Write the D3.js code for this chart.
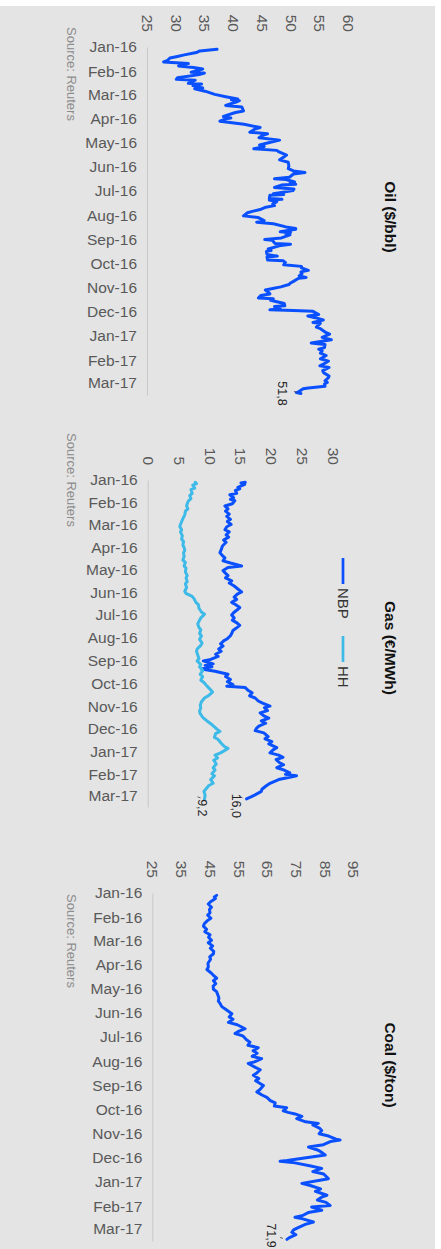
<!DOCTYPE html>
<html>
<head>
<meta charset="utf-8">
<script src="https://cdn.jsdelivr.net/npm/d3@7"></script>
<style>
  body { margin: 0; background: #fff; }
  svg { display: block; }
  text { font-family: "Liberation Sans", Arial, sans-serif; }
</style>
</head>
<body>
<svg id="chart" width="441" height="1249"></svg>
<script>
// month labels on the date axis
const months = ["2016-01-01","2016-02-01","2016-03-01","2016-04-01","2016-05-01","2016-06-01","2016-07-01",
  "2016-08-01","2016-09-01","2016-10-01","2016-11-01","2016-12-01","2017-01-01","2017-02-01","2017-03-01"];

const oilTicks = [25, 30, 35, 40, 45, 50, 55, 60];
const gasTicks = [0, 5, 10, 15, 20, 25, 30];
const coalTicks = [25, 35, 45, 55, 65, 75, 85, 95];

// Brent ($/bbl)
const oil = [
  ["2016-01-04",37.2],["2016-01-06",34.2],["2016-01-08",33.6],["2016-01-11",31.5],["2016-01-13",30.3],["2016-01-15",29.0],
  ["2016-01-18",28.6],["2016-01-20",27.9],["2016-01-22",32.2],["2016-01-25",30.5],["2016-01-27",33.1],["2016-01-29",34.7],
  ["2016-02-02",32.7],["2016-02-03",35.0],["2016-02-05",34.1],["2016-02-09",30.3],["2016-02-11",30.1],["2016-02-12",33.4],
  ["2016-02-16",32.2],["2016-02-17",34.5],["2016-02-19",33.0],["2016-02-22",34.7],["2016-02-23",33.3],["2016-02-26",35.1],
  ["2016-03-01",36.8],["2016-03-04",38.7],["2016-03-07",40.8],["2016-03-08",39.7],["2016-03-09",41.1],["2016-03-11",40.4],
  ["2016-03-15",38.7],["2016-03-17",41.5],["2016-03-22",41.8],["2016-03-24",40.4],["2016-03-29",38.3],["2016-03-31",39.6],
  ["2016-04-01",38.7],["2016-04-04",37.7],["2016-04-06",39.8],["2016-04-08",41.9],["2016-04-12",44.7],["2016-04-14",43.8],
  ["2016-04-18",42.9],["2016-04-20",46.0],["2016-04-22",45.1],["2016-04-25",44.5],["2016-04-28",48.1],["2016-05-02",45.8],
  ["2016-05-04",44.6],["2016-05-06",45.4],["2016-05-09",43.6],["2016-05-11",47.6],["2016-05-13",48.0],["2016-05-17",49.3],
  ["2016-05-20",48.7],["2016-05-23",48.1],["2016-05-26",49.6],["2016-05-31",49.7],["2016-06-03",49.6],["2016-06-06",50.5],
  ["2016-06-08",52.5],["2016-06-10",50.5],["2016-06-14",49.8],["2016-06-16",47.2],["2016-06-17",49.2],["2016-06-20",50.7],
  ["2016-06-22",49.9],["2016-06-23",50.9],["2016-06-24",48.4],["2016-06-27",47.2],["2016-06-29",50.6],["2016-07-01",50.4],
  ["2016-07-05",47.0],["2016-07-06",48.8],["2016-07-07",46.4],["2016-07-11",46.3],["2016-07-12",48.5],["2016-07-13",46.3],
  ["2016-07-15",47.6],["2016-07-18",46.9],["2016-07-20",47.2],["2016-07-22",45.7],["2016-07-25",44.7],["2016-07-27",43.5],
  ["2016-07-29",42.5],["2016-08-02",41.8],["2016-08-04",44.3],["2016-08-08",45.4],["2016-08-10",44.1],["2016-08-12",47.0],
  ["2016-08-16",49.2],["2016-08-18",50.9],["2016-08-19",50.9],["2016-08-22",48.2],["2016-08-23",50.0],["2016-08-24",49.1],
  ["2016-08-26",49.9],["2016-08-30",48.4],["2016-09-01",45.5],["2016-09-02",46.8],["2016-09-06",47.3],["2016-09-07",50.0],
  ["2016-09-09",48.0],["2016-09-13",46.1],["2016-09-15",46.6],["2016-09-16",45.8],["2016-09-20",45.9],["2016-09-22",47.7],
  ["2016-09-23",45.9],["2016-09-27",46.0],["2016-09-28",48.7],["2016-09-30",49.1],["2016-10-03",48.8],["2016-10-05",51.9],
  ["2016-10-07",51.9],["2016-10-10",53.1],["2016-10-12",51.8],["2016-10-14",52.0],["2016-10-17",51.5],["2016-10-19",52.7],
  ["2016-10-20",51.4],["2016-10-24",50.5],["2016-10-26",50.0],["2016-10-28",49.7],["2016-10-31",48.3],["2016-11-02",46.9],
  ["2016-11-04",45.6],["2016-11-07",46.2],["2016-11-09",46.4],["2016-11-11",44.8],["2016-11-14",44.4],["2016-11-15",47.0],
  ["2016-11-17",46.5],["2016-11-21",48.9],["2016-11-24",49.0],["2016-11-25",47.2],["2016-11-28",48.2],["2016-11-29",46.4],
  ["2016-11-30",50.5],["2016-12-01",53.9],["2016-12-05",54.9],["2016-12-07",53.0],["2016-12-09",54.3],["2016-12-12",55.7],
  ["2016-12-15",53.9],["2016-12-16",55.2],["2016-12-21",54.5],["2016-12-23",55.2],["2016-12-28",56.2],["2016-12-30",56.8],
  ["2017-01-03",55.5],["2017-01-06",57.1],["2017-01-10",53.6],["2017-01-12",56.0],["2017-01-16",55.9],["2017-01-18",54.9],
  ["2017-01-20",55.5],["2017-01-23",55.2],["2017-01-26",56.2],["2017-01-30",55.2],["2017-02-02",56.6],["2017-02-06",55.7],
  ["2017-02-08",55.1],["2017-02-10",56.7],["2017-02-14",55.6],["2017-02-16",55.7],["2017-02-17",55.8],["2017-02-21",56.7],
  ["2017-02-23",56.6],["2017-02-27",56.0],["2017-03-01",56.4],["2017-03-03",55.9],["2017-03-06",56.0],["2017-03-08",53.1],
  ["2017-03-09",52.2],["2017-03-13",51.4],["2017-03-14",51.0],["2017-03-15",51.8]
];

// NBP gas (EUR/MWh)
const nbp = [
  ["2016-01-04",15.8],["2016-01-05",15.1],["2016-01-07",15.7],["2016-01-11",14.6],["2016-01-13",14.9],["2016-01-15",14.2],
  ["2016-01-19",14.4],["2016-01-21",13.3],["2016-01-25",13.9],["2016-01-27",13.4],["2016-01-29",14.1],["2016-02-02",13.7],
  ["2016-02-05",12.5],["2016-02-09",13.0],["2016-02-12",12.6],["2016-02-16",13.2],["2016-02-19",12.8],["2016-02-23",13.4],
  ["2016-02-26",12.9],["2016-03-01",13.5],["2016-03-04",12.8],["2016-03-08",12.5],["2016-03-11",13.2],["2016-03-15",12.7],
  ["2016-03-18",13.1],["2016-03-22",12.3],["2016-03-25",12.7],["2016-03-30",12.1],["2016-04-04",11.9],["2016-04-08",11.7],
  ["2016-04-12",12.1],["2016-04-15",12.5],["2016-04-19",12.2],["2016-04-22",13.4],["2016-04-26",15.2],["2016-04-28",13.0],
  ["2016-05-02",12.2],["2016-05-05",12.5],["2016-05-09",13.0],["2016-05-12",12.6],["2016-05-16",13.6],["2016-05-19",13.2],
  ["2016-05-23",14.0],["2016-05-27",14.6],["2016-05-31",15.2],["2016-06-03",14.5],["2016-06-07",14.0],["2016-06-10",14.4],
  ["2016-06-14",13.6],["2016-06-17",14.2],["2016-06-21",14.9],["2016-06-24",14.5],["2016-06-28",13.9],["2016-07-01",13.6],
  ["2016-07-05",14.0],["2016-07-08",13.7],["2016-07-12",14.5],["2016-07-15",14.9],["2016-07-19",14.3],["2016-07-22",13.8],
  ["2016-07-26",13.6],["2016-07-29",13.4],["2016-08-02",12.9],["2016-08-05",12.3],["2016-08-09",11.8],["2016-08-12",12.2],
  ["2016-08-16",11.5],["2016-08-19",11.9],["2016-08-23",11.0],["2016-08-26",11.4],["2016-08-30",10.2],["2016-09-01",9.0],
  ["2016-09-05",10.6],["2016-09-07",9.3],["2016-09-09",10.4],["2016-09-12",8.7],["2016-09-15",10.9],["2016-09-19",13.0],
  ["2016-09-22",12.6],["2016-09-26",13.4],["2016-09-29",12.9],["2016-10-03",13.8],["2016-10-05",12.8],["2016-10-07",15.8],
  ["2016-10-11",16.3],["2016-10-14",16.9],["2016-10-18",16.5],["2016-10-21",17.4],["2016-10-25",17.9],["2016-10-28",18.6],
  ["2016-11-01",19.8],["2016-11-03",18.9],["2016-11-07",19.4],["2016-11-10",18.2],["2016-11-14",18.8],["2016-11-17",19.6],
  ["2016-11-21",18.4],["2016-11-24",19.1],["2016-11-28",18.0],["2016-12-01",17.6],["2016-12-04",17.4],["2016-12-07",18.8],
  ["2016-12-12",19.5],["2016-12-15",19.0],["2016-12-19",20.1],["2016-12-22",19.6],["2016-12-27",20.9],["2016-12-30",20.3],
  ["2017-01-03",19.8],["2017-01-06",21.2],["2017-01-09",21.9],["2017-01-12",20.8],["2017-01-16",21.3],["2017-01-19",22.0],
  ["2017-01-23",20.9],["2017-01-26",22.0],["2017-01-30",23.0],["2017-02-01",22.3],["2017-02-03",24.1],["2017-02-06",22.4],
  ["2017-02-08",21.2],["2017-02-13",19.8],["2017-02-17",19.1],["2017-02-21",18.5],["2017-02-24",18.4],["2017-03-01",17.3],
  ["2017-03-03",16.8],["2017-03-06",16.0]
];

// Henry Hub gas (EUR/MWh)
const hh = [
  ["2016-01-04",7.7],["2016-01-06",7.9],["2016-01-08",7.3],["2016-01-12",7.6],["2016-01-14",7.0],["2016-01-19",7.2],
  ["2016-01-22",6.8],["2016-01-26",7.0],["2016-01-29",6.6],["2016-02-02",6.4],["2016-02-05",6.3],["2016-02-09",6.5],
  ["2016-02-12",6.1],["2016-02-17",6.0],["2016-02-22",5.7],["2016-02-26",5.5],["2016-03-01",5.3],["2016-03-04",5.2],
  ["2016-03-08",5.5],["2016-03-11",5.3],["2016-03-16",5.6],["2016-03-21",5.5],["2016-03-24",5.8],["2016-03-29",5.7],
  ["2016-04-01",5.9],["2016-04-05",6.0],["2016-04-08",5.8],["2016-04-13",5.9],["2016-04-18",5.7],["2016-04-21",6.1],
  ["2016-04-26",5.9],["2016-04-29",6.2],["2016-05-04",6.1],["2016-05-09",6.4],["2016-05-12",6.2],["2016-05-17",6.4],
  ["2016-05-20",6.1],["2016-05-25",6.3],["2016-05-30",6.0],["2016-06-02",6.2],["2016-06-06",7.2],["2016-06-09",7.5],
  ["2016-06-14",7.8],["2016-06-17",8.2],["2016-06-22",8.3],["2016-06-27",8.7],["2016-06-30",9.2],["2016-07-05",8.6],
  ["2016-07-08",8.4],["2016-07-13",8.1],["2016-07-18",8.3],["2016-07-21",8.6],["2016-07-26",8.4],["2016-07-29",8.7],
  ["2016-08-03",8.4],["2016-08-08",8.8],["2016-08-11",8.6],["2016-08-16",8.0],["2016-08-19",7.9],["2016-08-24",8.1],
  ["2016-08-29",8.3],["2016-09-01",8.0],["2016-09-06",8.6],["2016-09-09",8.4],["2016-09-14",8.9],["2016-09-19",8.5],
  ["2016-09-22",8.9],["2016-09-27",8.6],["2016-09-30",9.1],["2016-10-05",9.6],["2016-10-10",10.2],["2016-10-13",10.5],
  ["2016-10-18",9.8],["2016-10-21",9.2],["2016-10-26",8.7],["2016-10-31",8.5],["2016-11-03",8.6],["2016-11-08",8.4],
  ["2016-11-11",8.5],["2016-11-16",8.9],["2016-11-21",9.6],["2016-11-24",10.1],["2016-11-29",10.8],["2016-12-02",11.2],
  ["2016-12-05",11.7],["2016-12-08",11.0],["2016-12-13",10.8],["2016-12-16",11.4],["2016-12-21",11.9],["2016-12-26",12.5],
  ["2016-12-28",13.0],["2017-01-03",11.8],["2017-01-06",10.9],["2017-01-10",11.3],["2017-01-13",10.7],["2017-01-18",11.1],
  ["2017-01-23",10.6],["2017-01-26",10.9],["2017-01-31",10.4],["2017-02-03",10.8],["2017-02-08",10.2],["2017-02-13",10.6],
  ["2017-02-16",9.9],["2017-02-21",9.4],["2017-02-24",9.1],["2017-03-01",9.3],["2017-03-06",9.2]
];

// API2 coal ($/ton)
const coal = [
  ["2016-01-04",47.4],["2016-01-06",46.6],["2016-01-08",47.0],["2016-01-12",45.3],["2016-01-15",44.5],["2016-01-19",45.6],
  ["2016-01-22",44.9],["2016-01-26",45.1],["2016-01-29",44.3],["2016-02-02",45.4],["2016-02-05",44.2],["2016-02-09",43.1],
  ["2016-02-12",42.8],["2016-02-16",43.9],["2016-02-19",43.3],["2016-02-23",45.1],["2016-02-26",44.6],["2016-03-01",45.6],
  ["2016-03-04",44.5],["2016-03-08",46.0],["2016-03-11",45.2],["2016-03-15",46.4],["2016-03-18",46.3],["2016-03-22",45.0],
  ["2016-03-25",45.3],["2016-03-30",44.4],["2016-04-04",44.5],["2016-04-07",44.0],["2016-04-11",45.4],["2016-04-14",46.2],
  ["2016-04-18",47.4],["2016-04-21",46.3],["2016-04-25",47.1],["2016-04-28",46.2],["2016-05-02",46.3],["2016-05-05",47.4],
  ["2016-05-10",47.9],["2016-05-13",48.2],["2016-05-17",48.0],["2016-05-20",48.6],["2016-05-24",49.2],["2016-05-27",50.4],
  ["2016-06-02",52.7],["2016-06-06",51.8],["2016-06-09",53.1],["2016-06-13",51.5],["2016-06-16",54.6],["2016-06-21",57.3],
  ["2016-06-24",55.2],["2016-06-27",53.8],["2016-06-30",56.5],["2016-07-05",57.8],["2016-07-08",59.0],["2016-07-12",58.3],
  ["2016-07-15",61.9],["2016-07-19",60.1],["2016-07-22",61.5],["2016-07-26",59.8],["2016-07-29",63.1],["2016-08-02",60.6],
  ["2016-08-04",58.4],["2016-08-09",60.9],["2016-08-12",62.6],["2016-08-16",61.4],["2016-08-19",60.2],["2016-08-23",62.1],
  ["2016-08-26",61.0],["2016-08-30",62.8],["2016-09-01",63.7],["2016-09-06",62.5],["2016-09-09",61.4],["2016-09-13",63.2],
  ["2016-09-16",64.9],["2016-09-20",66.1],["2016-09-23",67.8],["2016-09-27",67.5],["2016-09-29",71.8],["2016-10-03",70.6],
  ["2016-10-05",72.3],["2016-10-07",74.7],["2016-10-10",77.1],["2016-10-13",75.3],["2016-10-17",78.4],["2016-10-19",82.8],
  ["2016-10-21",80.9],["2016-10-25",83.2],["2016-10-28",84.0],["2016-11-01",83.1],["2016-11-04",86.4],["2016-11-08",89.0],
  ["2016-11-09",90.4],["2016-11-11",87.0],["2016-11-15",84.6],["2016-11-18",79.4],["2016-11-22",82.8],["2016-11-25",84.1],
  ["2016-11-28",85.2],["2016-12-01",79.8],["2016-12-05",72.0],["2016-12-06",69.5],["2016-12-08",74.7],["2016-12-12",80.2],
  ["2016-12-15",84.0],["2016-12-19",80.9],["2016-12-22",84.7],["2016-12-28",86.3],["2016-12-30",83.4],["2017-01-03",77.1],
  ["2017-01-06",80.3],["2017-01-10",83.6],["2017-01-13",81.8],["2017-01-18",85.8],["2017-01-20",84.2],["2017-01-24",82.5],
  ["2017-01-27",85.5],["2017-01-31",86.9],["2017-02-02",80.5],["2017-02-06",84.0],["2017-02-09",79.3],["2017-02-13",77.2],
  ["2017-02-15",74.7],["2017-02-17",77.4],["2017-02-21",81.1],["2017-02-24",78.3],["2017-02-28",75.8],["2017-03-03",74.2],
  ["2017-03-06",73.6],["2017-03-09",75.0],["2017-03-13",72.6],["2017-03-15",71.9]
];

const parse = d3.timeParse("%Y-%m-%d");
const fmt = d3.timeFormat("%b-%y");
const monthDates = months.map(parse);
const dateDomain = [parse("2016-01-01"), parse("2017-03-17")];

const svg = d3.select("#chart");

// grey chart area
svg.append("rect")
  .attr("x", 0).attr("y", 6)
  .attr("width", 435).attr("height", 1243)
  .attr("fill", "#e4e4e4");

const panels = [
  { title: "Oil ($/bbl)", ticks: oilTicks, vx: [147, 348], ty: [47, 395], tickEnd: 32,
    source: 27, titleY: 217,
    series: [{ data: oil, color: "#0a50ff", label: "51,8", lx: -19, ly: 0 }] },
  { title: "Gas (€/MWh)", ticks: gasTicks, vx: [147.7, 333], ty: [480, 807], tickEnd: 465,
    source: 433, titleY: 648,
    legend: { x: 343, y: 558 },
    series: [
      { name: "NBP", data: nbp, color: "#0a50ff", label: "16,0", lx: -10, ly: 7 },
      { name: "HH", data: hh, color: "#3dbae8", label: "9,2", lx: -2, ly: 9 }
    ] },
  { title: "Coal ($/ton)", ticks: coalTicks, vx: [152.3, 353.3], ty: [893, 1241], tickEnd: 878,
    source: 894, titleY: 1065,
    series: [{ data: coal, color: "#0a50ff", label: "71,9", lx: -16, ly: -4 }] }
];

panels.forEach(function(p) {
  const g = svg.append("g");
  const x = d3.scaleLinear().domain([p.ticks[0], p.ticks[p.ticks.length - 1]]).range(p.vx);
  const y = d3.scaleTime().domain(dateDomain).range(p.ty);

  // date axis (left, horizontal labels)
  const dateAxis = g.append("g")
    .attr("transform", `translate(${p.vx[0]},0)`)
    .call(d3.axisLeft(y).tickValues(monthDates).tickFormat(fmt).tickSize(0).tickPadding(10));
  dateAxis.select(".domain").attr("stroke", "#c8c8c8").attr("stroke-width", 1);
  dateAxis.selectAll("text")
    .attr("fill", "#595959")
    .style("font-size", "15.5px")
    .style("font-family", "'Liberation Sans', Arial, sans-serif");

  // value axis (top, rotated labels)
  const valAxis = g.append("g")
    .attr("transform", `translate(0,${p.tickEnd})`)
    .call(d3.axisTop(x).tickValues(p.ticks).tickFormat(d3.format("d")).tickSize(0));
  valAxis.select(".domain").remove();
  valAxis.selectAll("text")
    .attr("x", 0).attr("y", 0).attr("dy", "0.35em")
    .attr("transform", "rotate(90)")
    .style("text-anchor", "end")
    .attr("fill", "#595959")
    .style("font-size", "15.5px")
    .style("font-family", "'Liberation Sans', Arial, sans-serif");

  // title
  g.append("text")
    .attr("transform", `translate(390,${p.titleY}) rotate(90)`)
    .attr("text-anchor", "middle")
    .attr("dy", "0.35em")
    .style("font-size", "15.5px")
    .style("font-weight", "bold")
    .attr("fill", "#111")
    .text(p.title);

  // source
  g.append("text")
    .attr("transform", `translate(72,${p.source}) rotate(90)`)
    .attr("dy", "0.35em")
    .style("font-size", "13px")
    .attr("fill", "#8c8c8c")
    .text("Source: Reuters");

  const line = d3.line()
    .x(d => x(d[1]))
    .y(d => y(parse(d[0])));

  p.series.forEach(function(s) {
    g.append("path")
      .datum(s.data)
      .attr("d", line)
      .attr("fill", "none")
      .attr("stroke", s.color)
      .attr("stroke-width", 3)
      .attr("stroke-linejoin", "round")
      .attr("stroke-linecap", "round");

    const last = s.data[s.data.length - 1];
    const ex = x(last[1]), ey = y(parse(last[0]));
    g.append("line")
      .attr("x1", ex - 4).attr("y1", ey - 1)
      .attr("x2", ex - 7).attr("y2", ey - 2)
      .attr("stroke", "#444").attr("stroke-width", 0.8);
    g.append("text")
      .attr("transform", `translate(${ex + s.lx},${ey + s.ly}) rotate(90)`)
      .attr("text-anchor", "middle")
      .attr("dy", "0.35em")
      .style("font-size", "12.5px")
      .attr("fill", "#222")
      .text(s.label);
  });

  // legend (gas panel only)
  if (p.legend) {
    const offs = [0, 78];
    p.series.forEach(function(s, i) {
      const y0 = p.legend.y + offs[i];
      g.append("line")
        .attr("x1", p.legend.x).attr("x2", p.legend.x)
        .attr("y1", y0).attr("y2", y0 + 26)
        .attr("stroke", s.color).attr("stroke-width", 2.7);
      g.append("text")
        .attr("transform", `translate(${p.legend.x},${y0 + 30}) rotate(90)`)
        .attr("dy", "0.35em")
        .style("font-size", "15px")
        .attr("fill", "#333")
        .text(s.name);
    });
  }
});
</script>
</body>
</html>
